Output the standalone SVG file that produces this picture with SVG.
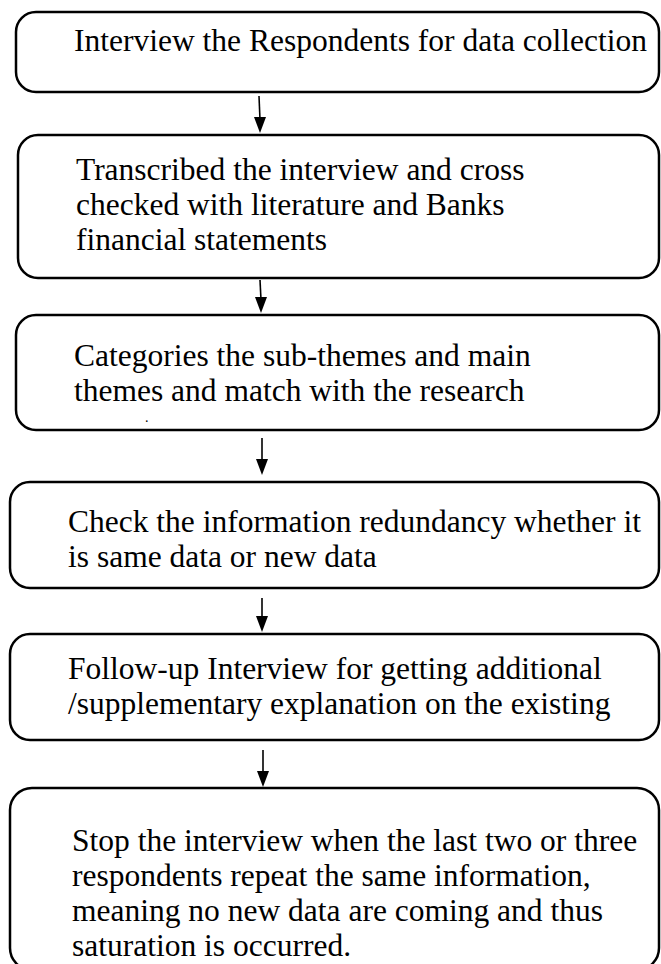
<svg xmlns="http://www.w3.org/2000/svg" width="661" height="964" viewBox="0 0 661 964">
<style>
.box{fill:#fff;stroke:#000;stroke-width:2.5}
.t{font-family:"Liberation Serif","Times New Roman",serif;font-size:31.5px;fill:#000}
.c{stroke:#000;stroke-width:1.6;fill:none}
</style>
<rect width="661" height="964" fill="#fff"/>
<g id="connectors">
<path class="c" d="M259,96 L260,120"/><path d="M254,117 L266,117 L260,133 Z"/>
<path class="c" d="M260,280 L261,300"/><path d="M255,297 L267,297 L261,313 Z"/>
<path class="c" d="M262,438 L262,462"/><path d="M256,459 L268,459 L262,475 Z"/>
<path class="c" d="M262,598 L262,619"/><path d="M256,616 L268,616 L262,632 Z"/>
<path class="c" d="M263,750 L263,774"/><path d="M257,771 L269,771 L263,787 Z"/>
</g>
<g id="n1">
<rect class="box" x="16" y="12" width="643" height="80" rx="20"/>
<text class="t" x="74" y="51">Interview the Respondents for data collection</text>
</g>
<g id="n2">
<rect class="box" x="18" y="135" width="641" height="143" rx="20"/>
<text class="t" x="76" y="180">Transcribed the interview and cross</text>
<text class="t" x="76" y="215">checked with literature and Banks</text>
<text class="t" x="76" y="250">financial statements</text>
</g>
<g id="n3">
<rect class="box" x="16" y="315" width="643" height="115" rx="20"/>
<text class="t" x="74" y="366">Categories the sub-themes and main</text>
<text class="t" x="74" y="401">themes and match with the research</text>
<text class="t" style="font-size:14px" x="145" y="422">.</text>
</g>
<g id="n4">
<rect class="box" x="10" y="482" width="649" height="106" rx="20"/>
<text class="t" x="68" y="532">Check the information redundancy whether it</text>
<text class="t" x="68" y="567">is same data or new data</text>
</g>
<g id="n5">
<rect class="box" x="10" y="634" width="649" height="106" rx="20"/>
<text class="t" x="68" y="679">Follow-up Interview for getting additional</text>
<text class="t" x="68" y="714">/supplementary explanation on the existing</text>
</g>
<g id="n6">
<rect class="box" x="10" y="788" width="649" height="182" rx="22"/>
<text class="t" x="72" y="851">Stop the interview when the last two or three</text>
<text class="t" x="72" y="886">respondents repeat the same information,</text>
<text class="t" x="72" y="921">meaning no new data are coming and thus</text>
<text class="t" x="72" y="956">saturation is occurred.</text>
</g>
</svg>
